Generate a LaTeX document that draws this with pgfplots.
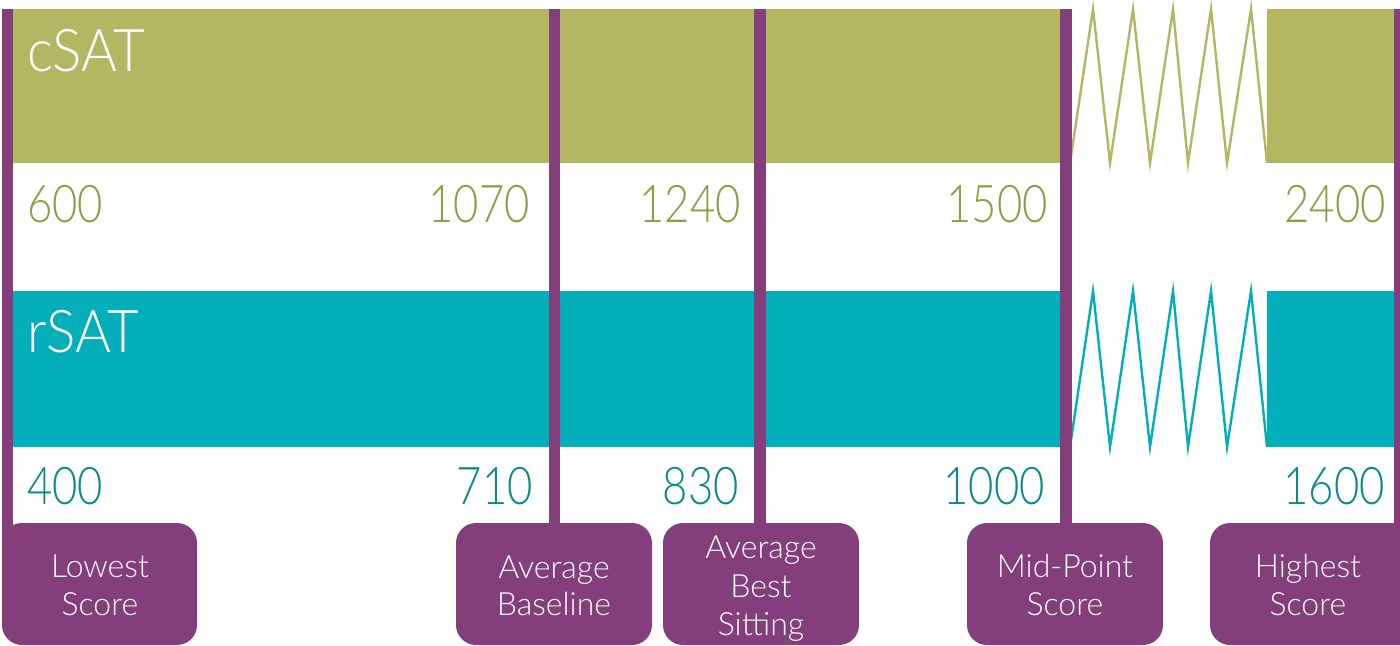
\documentclass[border=0pt]{standalone}
\usepackage{pgfplots}
\pgfplotsset{compat=1.18}
\usepackage{fontspec}
\setmainfont{Lato Light}
\definecolor{olivebar}{HTML}{B3B762}
\definecolor{olivetxt}{HTML}{949B45}
\definecolor{tealbar}{HTML}{00AFBA}
\definecolor{tealtxt}{HTML}{0A8A8C}
\definecolor{plum}{HTML}{833E7B}
\newcommand{\num}[1]{\scalebox{0.84}[1]{#1}}
\begin{document}
\begin{tikzpicture}
\begin{axis}[name=ax,
  width=700pt, height=323pt, scale only axis,
  xmin=0, xmax=1400, ymin=0, ymax=646, y dir=reverse,
  hide axis, clip=false,
  every node/.style={inner sep=0pt, outer sep=0pt}]
% cSAT band
\addplot[fill=olivebar, draw=none] coordinates {(13,9) (1072,9) (1072,163) (13,163)} -- cycle;
\addplot[fill=olivebar, draw=none] coordinates {(1267,9) (1400,9) (1400,163) (1267,163)} -- cycle;
\addplot[olivebar, line width=1.2pt, line join=miter] coordinates {(1070,163) (1093,9) (1110,163) (1133,9) (1150,163) (1173,9) (1188,163) (1211,9) (1227,163) (1251,9) (1267,163)};
% rSAT band
\addplot[fill=tealbar, draw=none] coordinates {(13,291) (1072,291) (1072,447) (13,447)} -- cycle;
\addplot[fill=tealbar, draw=none] coordinates {(1267,291) (1400,291) (1400,447) (1267,447)} -- cycle;
\addplot[tealbar, line width=1.2pt, line join=miter] coordinates {(1070,447) (1093,291) (1110,447) (1133,291) (1150,447) (1173,291) (1188,447) (1211,291) (1227,447) (1251,291) (1267,447)};
% marker lines
\addplot[plum, line width=5.8pt] coordinates {(7.5,9) (7.5,550)};
\addplot[plum, line width=5.8pt] coordinates {(554.5,9) (554.5,530)};
\addplot[plum, line width=5.8pt] coordinates {(760,9) (760,530)};
\addplot[plum, line width=5.8pt] coordinates {(1066,9) (1066,530)};
\addplot[plum, line width=5.8pt] coordinates {(1400,9) (1400,530)};
% boxes
\fill[plum, rounded corners=10pt] (axis cs:2,523) rectangle (axis cs:197,645);
\fill[plum, rounded corners=10pt] (axis cs:456,523) rectangle (axis cs:652,645);
\fill[plum, rounded corners=10pt] (axis cs:663,523) rectangle (axis cs:859,645);
\fill[plum, rounded corners=10pt] (axis cs:967,523) rectangle (axis cs:1163,645);
\fill[plum, rounded corners=10pt] (axis cs:1210,523) rectangle (axis cs:1420,645);
% band names
\node[anchor=base west, text=white, font=\fontsize{29.5}{32}\selectfont] at (axis cs:20,72) {\scalebox{0.93}[1]{cSAT}};
\node[anchor=base west, text=white, font=\fontsize{29.5}{32}\selectfont] at (axis cs:20,352) {\scalebox{0.93}[1]{rSAT}};
% values
\begin{scope}[every node/.append style={font=\fontsize{26}{28}\selectfont}]
\node[anchor=base west, text=olivetxt] at (axis cs:20,223) {\num{600}};
\node[anchor=base east, text=olivetxt] at (axis cs:537,223) {\num{1070}};
\node[anchor=base east, text=olivetxt] at (axis cs:748,223) {\num{1240}};
\node[anchor=base east, text=olivetxt] at (axis cs:1055,223) {\num{1500}};
\node[anchor=base east, text=olivetxt] at (axis cs:1393,223) {\num{2400}};
\node[anchor=base west, text=tealtxt] at (axis cs:20,504) {\num{400}};
\node[anchor=base east, text=tealtxt] at (axis cs:540,504) {\num{710}};
\node[anchor=base east, text=tealtxt] at (axis cs:746,504) {\num{830}};
\node[anchor=base east, text=tealtxt] at (axis cs:1052,504) {\num{1000}};
\node[anchor=base east, text=tealtxt] at (axis cs:1392,504) {\num{1600}};
\end{scope}
% box labels
\begin{scope}[every node/.append style={font=\fontsize{16}{19}\selectfont, text=white, anchor=base}]
\node at (axis cs:100,577) {Lowest};
\node at (axis cs:100,615) {Score};
\node at (axis cs:554,578) {Average};
\node at (axis cs:554,615) {Baseline};
\node at (axis cs:761,558) {Average};
\node at (axis cs:761,597) {Best};
\node at (axis cs:761,635) {Sitting};
\node at (axis cs:1065,577) {Mid-Point};
\node at (axis cs:1065,615) {Score};
\node at (axis cs:1308,577) {Highest};
\node at (axis cs:1308,615) {Score};
\end{scope}
\end{axis}
\pgfresetboundingbox
\path (ax.south west) rectangle (ax.north east);
\end{tikzpicture}
\end{document}
